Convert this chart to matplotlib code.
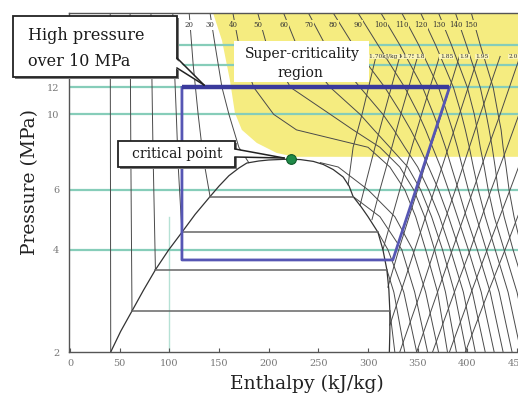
import numpy as np
import matplotlib.pyplot as plt
from matplotlib.patches import Polygon, Rectangle
from matplotlib.ticker import NullLocator

# ---------------------------------------------------
# Daten, h in kJ/kg, p in MPa
# ---------------------------------------------------
h_ticks = [0, 50, 100, 150, 200, 250, 300, 350, 400, 450]
p_ticks = [2, 4, 6, 10, 12]
grid_p = [4, 6, 10, 12, 14, 16]

# Sättigungslinie
sat_liq_h = [41, 51, 62.4, 74, 86, 99, 112.7, 126, 141, 150, 160, 170, 178, 190, 200, 214, 222]
sat_liq_p = [2.0, 2.3, 2.64, 3.04, 3.49, 3.98, 4.50, 5.08, 5.73, 6.15, 6.6, 6.95, 7.19, 7.29, 7.34, 7.37, 7.38]
sat_vap_h = [222, 232, 245, 255, 265, 275, 281, 285, 293, 300, 310, 315, 319, 321, 322, 322, 321.5]
sat_vap_p = [7.38, 7.36, 7.27, 7.12, 6.88, 6.54, 6.15, 5.73, 5.35, 5.0, 4.5, 4.0, 3.49, 3.05, 2.64, 2.3, 2.0]
crit_h, crit_p = 222, 7.38

# waagerechte Isothermen im Nassdampfgebiet
plateau_p = [5.73, 4.50, 3.49, 2.64]
plateau_h_liq = [141, 112.7, 86, 62.4]
plateau_h_vap = [285, 310, 319, 322]

# unterkritische Isothermen: Flüssigkeitsast und Dampfast
sub_T = [-20, -10, 0, 10, 20, 30]
sub_liq_h = [[40.5, 41], [60.5, 61.2, 62.4], [81.5, 83.5, 86],
             [103.5, 105, 107, 109, 112.7], [120, 124, 129, 134, 141],
             [141, 146, 153, 160, 170, 180]]
sub_liq_p = [[19.86, 2.0], [19.86, 8, 2.64], [19.86, 8, 3.49],
             [19.86, 14, 10, 7, 4.5], [19.86, 14, 10, 7.5, 5.73],
             [19.86, 16, 12, 10, 8, 7.21]]
sub_vap_h = [[], [322, 327], [319, 326, 337], [310, 320, 336, 349],
             [285, 312, 334, 347, 360], [252, 270, 300, 327, 345, 358, 371]]
sub_vap_p = [[], [2.64, 2.0], [3.49, 3.0, 2.0], [4.5, 4.0, 3.0, 2.0],
             [5.73, 5.0, 4.0, 3.0, 2.0], [7.21, 7.0, 6.0, 5.0, 4.0, 3.0, 2.0]]

# überkritische Isothermen
super_T = [40, 50, 60, 70, 80, 90, 100, 110, 120, 130, 140, 150]
super_p = [19.86, 16, 12, 10, 9, 8, 7, 6, 5, 4, 3, 2]
super_h = [
    [164, 170, 185, 205, 228, 300, 322, 337, 348, 358, 370, 380],
    [189, 198, 222, 262, 285, 312, 332, 346, 357, 367, 378, 389],
    [215, 228, 262, 292, 306, 322, 340, 353, 364, 375, 387, 399],
    [240, 257, 292, 315, 326, 337, 350, 361, 372, 383, 396, 408],
    [265, 285, 317, 334, 343, 352, 361, 371, 381, 392, 405, 418],
    [290, 310, 337, 351, 358, 365, 373, 381, 390, 401, 414, 427],
    [313, 332, 355, 366, 372, 378, 384, 391, 399, 410, 423, 436],
    [334, 351, 371, 380, 385, 390, 395, 401, 409, 419, 432, 445],
    [353, 368, 386, 394, 398, 402, 406, 411, 418, 428, 441, 454],
    [371, 384, 400, 407, 410, 413, 417, 421, 427, 437, 450, 463],
    [388, 399, 413, 419, 422, 425, 428, 431, 437, 446, 459, 472],
    [404, 413, 426, 431, 434, 436, 439, 442, 447, 455, 468, 481],
]

# Isentropen
s_h = [[308, 294, 285, 280],
       [332, 316, 307, 296, 292],
       [350, 333, 324, 312, 304],
       [372, 354, 344, 332, 315],
       [392, 374, 363, 350, 331, 320],
       [411, 392, 381, 367, 347, 333, 322],
       [433, 413, 402, 388, 367, 353, 332],
       [453, 433, 421, 406, 385, 370, 349],
       [473, 452, 440, 424, 403, 387, 365],
       [493, 471, 459, 443, 420, 404, 382],
       [513, 490, 477, 461, 438, 421, 398]]
s_p = [[14.8, 10, 8, 6.2],
       [14.8, 10, 8, 6, 5.4],
       [14.8, 10, 8, 6, 4.9],
       [14.8, 10, 8, 6, 4.0],
       [14.8, 10, 8, 6, 4, 3.1],
       [14.8, 10, 8, 6, 4, 3, 2.4],
       [14.8, 10, 8, 6, 4, 3, 2],
       [14.8, 10, 8, 6, 4, 3, 2],
       [14.8, 10, 8, 6, 4, 3, 2],
       [14.8, 10, 8, 6, 4, 3, 2],
       [14.8, 10, 8, 6, 4, 3, 2]]
s_labels = ["1.70kJ/kg K", "1.75", "1.8", "1.85", "1.9", "1.95", "2.0"]
s_label_h = [318, 341, 352, 379, 397, 415, 446]

# überkritisches Gebiet (gelb)
yellow_h = [144, 153, 161, 166, 173, 188, 208, 226, 452, 452]
yellow_p = [19.86, 16.5, 12.6, 10.1, 9.0, 8.24, 7.7, 7.5, 7.5, 19.86]

# CO2-Kreisprozess
cycle_h_low, cycle_h_top = 112.7, 382
cycle_h_comp = 325
cycle_p_high, cycle_p_low = 12, 3.73

# ---------------------------------------------------
# Diagramm
# ---------------------------------------------------
W, H = 518, 404
fig = plt.figure(figsize=(W / 100, H / 100), dpi=100)
ax = fig.add_axes([69 / W, (H - 352) / H, 449 / W, 339 / H])
ax.set_yscale('log')
ax.set_xlim(-1, 451)
ax.set_ylim(2.0, 19.86)

serif = 'DejaVu Serif'
iso_col = '#4a4a4a'
teal = '#86cdb9'
yellow = '#f5ec80'

ax.fill(yellow_h, yellow_p, color=yellow, lw=0, zorder=0.5)

for p in grid_p:
    ax.axhline(p, color=teal, lw=1.6, zorder=1)
ax.plot([100, 100], [2.0, 5.0], color=teal, lw=1.0, alpha=0.6, zorder=1)

# Isothermen
for liq_h, liq_p, vap_h, vap_p in zip(sub_liq_h, sub_liq_p, sub_vap_h, sub_vap_p):
    ax.plot(liq_h, liq_p, color=iso_col, lw=0.7, zorder=2)
    if vap_h:
        ax.plot(vap_h, vap_p, color=iso_col, lw=0.7, zorder=2)
for row in super_h:
    ax.plot(row, super_p, color=iso_col, lw=0.7, zorder=2)

# Isentropen
for hh, pp in zip(s_h, s_p):
    ax.plot(hh, pp, color=iso_col, lw=0.7, zorder=2)

# Sättigungslinie und waagerechte Linien
ax.plot(sat_liq_h, sat_liq_p, color='#333333', lw=0.9, zorder=2.5)
ax.plot(sat_vap_h, sat_vap_p, color='#333333', lw=0.9, zorder=2.5)
for p, hl, hv in zip(plateau_p, plateau_h_liq, plateau_h_vap):
    ax.plot([hl, hv], [p, p], color='#666666', lw=1.1, zorder=2.5)

# Kreisprozess
ax.plot([cycle_h_low, cycle_h_low, cycle_h_comp, cycle_h_top],
        [cycle_p_high, cycle_p_low, cycle_p_low, cycle_p_high],
        color='#5656b4', lw=2.0, zorder=3)
ax.plot([cycle_h_low, cycle_h_top], [cycle_p_high, cycle_p_high],
        color='#3a3a9c', lw=3.2, solid_capstyle='butt', zorder=3.1)

ax.plot([crit_h], [crit_p], 'o', ms=7, color='#1f8a48', mec='#0f5a2a', mew=0.8, zorder=4)

# Temperatur- und Entropiebeschriftung
for T, hh in zip(sub_T[4:], [r[0] for r in sub_liq_h[4:]]):
    ax.text(hh, 18.3, str(T), fontsize=5, color='#333333', ha='center', va='center',
            family=serif, zorder=5,
            bbox=dict(fc='white', ec='none', pad=0.6))
for T, row in zip(super_T, super_h):
    ax.text(row[0], 18.3, str(T), fontsize=5, color='#333333', ha='center', va='center',
            family=serif, zorder=5,
            bbox=dict(fc=yellow, ec='none', pad=0.6))
for lab, hh in zip(s_labels, s_label_h):
    ax.text(hh, 14.8, lab, fontsize=4.2, color='#333333', ha='center', va='center',
            family=serif, zorder=5,
            bbox=dict(fc='#faf4b8', ec='none', pad=0.3))

# Achsen
ax.set_xticks(h_ticks)
ax.set_xticklabels([str(v) for v in h_ticks], fontsize=7, color='#777777', family=serif)
ax.set_yticks(p_ticks)
ax.set_yticklabels([str(v) for v in p_ticks], fontsize=7, color='#777777', family=serif)
ax.yaxis.set_minor_locator(NullLocator())
ax.tick_params(axis='x', direction='in', length=3, color='#555555', pad=5)
ax.tick_params(axis='y', length=0, pad=7)
for side in ['left', 'bottom', 'top']:
    ax.spines[side].set_color('#555555')
    ax.spines[side].set_linewidth(1.0)
ax.spines['right'].set_visible(False)

fig.text(30 / W, 1 - 182 / H, "Pressure (MPa)", rotation=90, fontsize=13.5,
         family=serif, ha='center', va='center', color='#222222')
fig.text(307 / W, 1 - 384 / H, "Enthalpy (kJ/kg)", fontsize=13.5,
         family=serif, ha='center', va='center', color='#222222')


# ---------------------------------------------------
# Beschriftungskästen
# ---------------------------------------------------
def fx(x):
    return x / W


def fy(y):
    return 1 - y / H


def callout(x0, y0, x1, y1, tail, text_items):
    sh = Rectangle((fx(x0 + 2), fy(y1 + 2)), fx(x1) - fx(x0), fy(y0) - fy(y1),
                   transform=fig.transFigure, fc='#777777', ec='none', zorder=9)
    box = Rectangle((fx(x0), fy(y1)), fx(x1) - fx(x0), fy(y0) - fy(y1),
                    transform=fig.transFigure, fc='white', ec='#222222', lw=1.3, zorder=10)
    fig.add_artist(sh)
    fig.add_artist(box)
    (ax_, ay_), (bx_, by_), (tx_, ty_) = tail
    tri = Polygon([(fx(ax_ - 2), fy(ay_)), (fx(bx_ - 2), fy(by_)), (fx(tx_), fy(ty_))],
                  closed=True, transform=fig.transFigure, fc='white', ec='none', zorder=11)
    fig.add_artist(tri)
    for (sx, sy) in [(ax_, ay_), (bx_, by_)]:
        fig.add_artist(plt.Line2D([fx(sx), fx(tx_)], [fy(sy), fy(ty_)],
                                  transform=fig.transFigure, color='#222222', lw=1.1, zorder=11))
    for (tx, ty, s, fs, ha) in text_items:
        fig.text(fx(tx), fy(ty), s, fontsize=fs, family=serif, ha=ha, va='center',
                 color='#1a1a1a', zorder=12)


callout(13, 16, 177, 77, [(177, 58), (177, 68), (204, 85)],
        [(28, 36, "High pressure", 11.5, 'left'), (28, 61, "over 10 MPa", 11.5, 'left')])
callout(118, 141, 235, 167, [(235, 149), (235, 157), (284, 158)],
        [(177, 154, "critical point", 10, 'center')])

fig.add_artist(Rectangle((fx(234), fy(82)), fx(369) - fx(234), fy(41) - fy(82),
                         transform=fig.transFigure, fc='white', ec='none', zorder=8))
fig.text(fx(302), fy(54), "Super-criticality", fontsize=10, family=serif,
         ha='center', va='center', color='#1a1a1a', zorder=12)
fig.text(fx(300), fy(73), "region", fontsize=10, family=serif,
         ha='center', va='center', color='#1a1a1a', zorder=12)

fig.savefig('out.png', dpi=100)
